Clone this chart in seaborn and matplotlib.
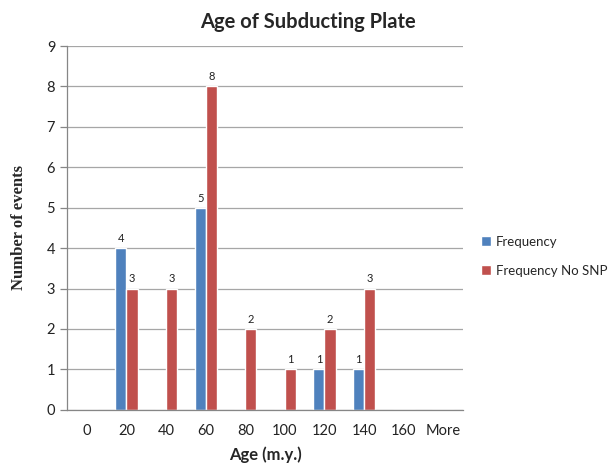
import matplotlib
matplotlib.use("Agg")
import matplotlib.pyplot as plt
import seaborn as sns
import pandas as pd

categories = ["0", "20", "40", "60", "80", "100", "120", "140", "160", "More"]
frequency = [0, 4, 0, 5, 0, 0, 1, 1, 0, 0]
frequency_no_snp = [0, 3, 3, 8, 2, 1, 2, 3, 0, 0]
series_names = ["Frequency", "Frequency No SNP"]
colors = ["#4F81BD", "#C0504D"]

df = pd.DataFrame({
    "Age": categories * 2,
    "Count": frequency + frequency_no_snp,
    "Series": [series_names[0]] * len(categories) + [series_names[1]] * len(categories),
})

sns.set_style("white")
plt.rcParams["font.family"] = ["Lato", "DejaVu Sans"]

fig = plt.figure(figsize=(6.15, 4.7), dpi=100)
ax = fig.add_axes([0.109, 0.128, 0.644, 0.774])

sns.barplot(data=df, x="Age", y="Count", hue="Series", order=categories,
            hue_order=series_names, palette=colors, width=0.56, ax=ax,
            saturation=1, legend=True)

for cont in ax.containers:
    labels = [("%d" % v) if v > 0 else "" for v in cont.datavalues]
    ax.bar_label(cont, labels=labels, padding=3, fontsize=8, color="#222222")

ax.set_ylim(0, 9)
ax.set_xlim(-0.5, len(categories) - 0.5)
ax.set_yticks(range(0, 10))
ax.yaxis.grid(True, color="#A6A6A6", linewidth=0.9)
ax.set_axisbelow(True)
for s in ["top", "right"]:
    ax.spines[s].set_visible(False)
for s in ["left", "bottom"]:
    ax.spines[s].set_color("#868686")
    ax.spines[s].set_linewidth(0.9)

ax.set_xticks([i - 0.5 for i in range(len(categories) + 1)], minor=True)
ax.tick_params(axis="x", which="major", length=0, labelsize=10.5, pad=10, colors="#222222")
ax.tick_params(axis="x", which="minor", length=5, width=0.9, color="#868686", direction="out")
ax.tick_params(axis="y", which="major", length=5, width=0.9, color="#868686", direction="out",
               labelsize=10.5, labelcolor="#222222", left=True)

ax.set_xlabel("Age (m.y.)", fontsize=12, fontweight="bold", labelpad=6)
ax.set_ylabel("Number of events", fontsize=12, fontweight="bold",
              family=["Liberation Serif", "DejaVu Serif"], labelpad=14)
fig.suptitle("Age of Subducting Plate", x=0.5, y=0.975, fontsize=14.5, fontweight="bold")

ax.legend(loc="center left", bbox_to_anchor=(0.782, 0.455), bbox_transform=fig.transFigure,
          frameon=False, handlelength=0.8, handleheight=0.8, handletextpad=0.35,
          labelspacing=1.3, fontsize=9.5, borderaxespad=0, borderpad=0)

fig.savefig("out.png", dpi=100)
